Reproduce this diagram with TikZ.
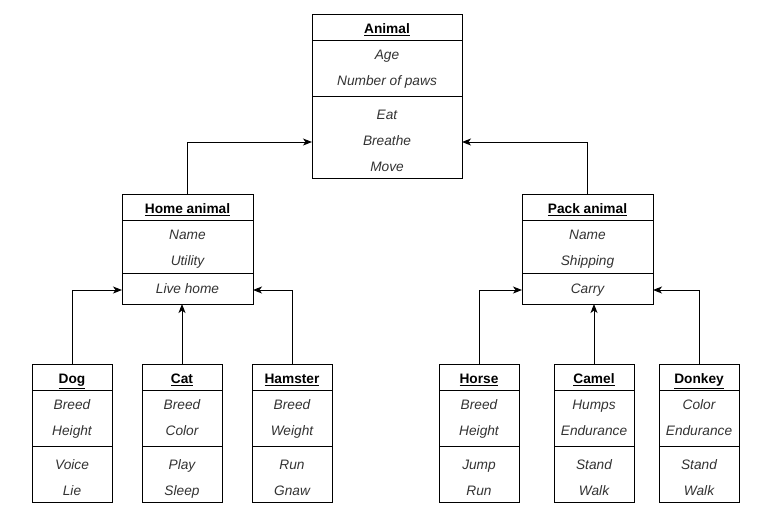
\documentclass[tikz,border=0pt]{standalone}
\usepackage{fontspec}
\setmainfont{Liberation Sans}
\usepackage{xcolor}
\usepackage{tikz}
\usetikzlibrary{positioning, fit, arrows.meta}

\tikzset{
  clsbox/.style={draw, line width=1pt, inner sep=0pt, outer sep=0pt, anchor=north west},
  clstitle/.style={inner sep=0pt, yshift=-3pt, text height=10pt, text depth=3pt, font=\fontsize{13.7}{16}\selectfont\bfseries},
  clsrow/.style={inner sep=0pt, yshift=-3pt, text height=10pt, text depth=3pt, text=black!80, font=\fontsize{13.7}{16}\selectfont\itshape},
  inherit/.style={draw, line width=1pt, -{Stealth[length=9pt,width=7pt,inset=2.5pt]}}
}

\def\rowh{26} % height of one row
\def\sepgap{8} % gap round the line between attributes and operations
\def\botpad{0} % extra space under the operations

% #1 name, #2 left, #3 top, #4 width, #5 title, #6 attributes, #7 operations
\newcommand{\umlclass}[7]{%
  \node[clstitle] (#1-t) at (#2+#4/2, #3+13) {\underline{#5}};
  % attributes
  \foreach \a [count=\i] in {#6} {
    \node[clsrow] (#1-a\i) at (#2+#4/2, #3+13+\i*\rowh) {\a};
    \xdef\nattr{\i}
  }
  \pgfmathsetmacro{\sepy}{#3+\rowh+\nattr*\rowh+\sepgap/2}
  % operations
  \foreach \m [count=\i] in {#7} {
    \node[clsrow] (#1-m\i) at (#2+#4/2, \sepy+\sepgap/2+13+\i*\rowh-\rowh) {\m};
    \xdef\nmeth{\i}
  }
  \pgfmathsetmacro{\boxh}{\rowh+(\nattr+\nmeth)*\rowh+\sepgap+\botpad}
  \node[clsbox, minimum width=#4pt, minimum height=\boxh pt] (#1) at (#2,#3) {};
  \draw[line width=1pt] (#2,#3+\rowh) -- ++(#4,0);
  \draw[line width=1pt] (#2,\sepy) -- ++(#4,0);
}

\begin{document}
\begin{tikzpicture}[x=1pt, y=-1pt]
  \fill[white] (0,0) rectangle (768,531);
  \useasboundingbox (0,0) rectangle (768,531);

  % top class
  \umlclass{animal}{312}{14}{150}{Animal}{Age, Number of paws}{Eat, Breathe, Move}

  % middle classes
  \def\sepgap{2}
  \def\botpad{4}
  \umlclass{home}{122}{194}{131}{Home animal}{Name, Utility}{Live home}
  \umlclass{pack}{522}{194}{131}{Pack animal}{Name, Shipping}{Carry}

  % bottom classes
  \def\sepgap{8}
  \def\botpad{0}
  \umlclass{dog}{32}{364}{80}{Dog}{Breed, Height}{Voice, Lie}
  \umlclass{cat}{142}{364}{80}{Cat}{Breed, Color}{Play, Sleep}
  \umlclass{hamster}{252}{364}{80}{Hamster}{Breed, Weight}{Run, Gnaw}
  \umlclass{horse}{439}{364}{80}{Horse}{Breed, Height}{Jump, Run}
  \umlclass{camel}{554}{364}{80}{Camel}{Humps, Endurance}{Stand, Walk}
  \umlclass{donkey}{659}{364}{80}{Donkey}{Color, Endurance}{Stand, Walk}

  % inheritance arrows
  \draw[inherit] (home.north) |- (animal-m2 -| animal.west);
  \draw[inherit] (pack.north) |- (animal-m2 -| animal.east);
  \draw[inherit] (dog.north) |- (home-m1 -| home.west);
  \draw[inherit] (cat.north) -- (cat.north |- home.south);
  \draw[inherit] (hamster.north) |- (home-m1 -| home.east);
  \draw[inherit] (horse.north) |- (pack-m1 -| pack.west);
  \draw[inherit] (camel.north) -- (camel.north |- pack.south);
  \draw[inherit] (donkey.north) |- (pack-m1 -| pack.east);
\end{tikzpicture}
\end{document}
